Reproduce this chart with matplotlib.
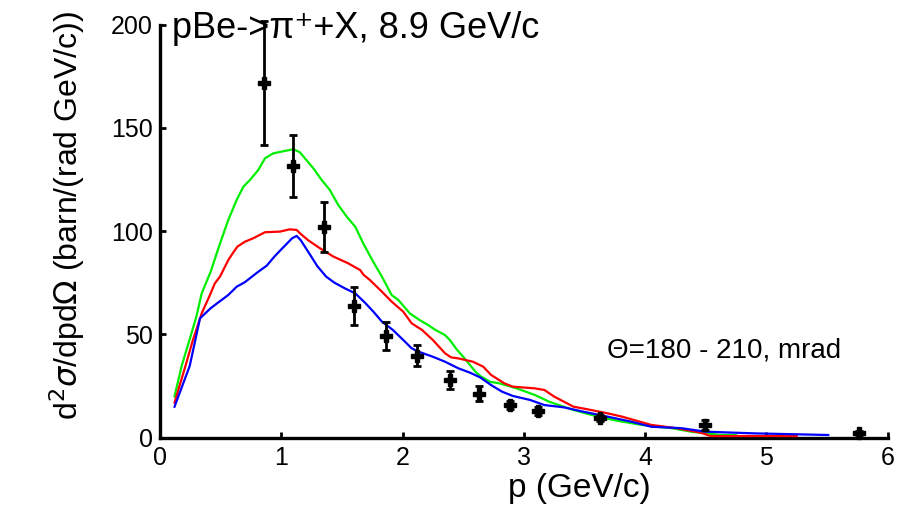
import matplotlib
matplotlib.use("Agg")
import matplotlib.pyplot as plt

plt.rcParams['font.family'] = ['Liberation Sans', 'DejaVu Sans']

# Experimental data points
data_p = [0.855, 1.10, 1.35, 1.60, 1.86, 2.12, 2.39, 2.63, 2.885, 3.12, 3.63, 4.49, 5.76]
data_xs = [171.6, 131.6, 102.0, 63.8, 49.3, 39.8, 28.0, 21.3, 15.8, 12.9, 9.4, 6.1, 2.1]
data_err = [30.0, 15.1, 12.3, 9.1, 6.9, 5.1, 4.4, 3.5, 2.0, 2.0, 1.5, 2.5, 1.0]

# Model curves
green_p = [0.12, 0.18, 0.26, 0.30, 0.344, 0.418, 0.486, 0.563, 0.632, 0.687, 0.742, 0.81, 0.866,
           0.934, 1.00, 1.10, 1.154, 1.195, 1.264, 1.333, 1.40, 1.47, 1.54, 1.61, 1.676, 1.76,
           1.83, 1.91, 1.965, 2.06, 2.14, 2.21, 2.27, 2.35, 2.39, 2.45, 2.50, 2.556, 2.60, 2.64,
           2.72, 2.80, 2.94, 3.09, 3.21, 3.41, 3.61, 3.77, 3.97, 4.22, 4.38, 4.62, 4.75]
green_xs = [20, 35, 50.6, 58.6, 69.9, 80.4, 92.5, 105.4, 115.1, 121.5, 124.8, 129.6, 135.3,
            137.7, 138.5, 139.7, 138.2, 135.3, 130.5, 124.8, 120, 112.7, 107, 102.2, 94.1, 85,
            78, 69.1, 66.7, 60.2, 57, 54.6, 52.2, 49.7, 47.3, 42.5, 39.2, 35.2, 32, 29.9,
            27.1, 26.3, 23.9, 20.7, 17.4, 13.4, 10.2, 8.2, 6.2, 4.6, 2.9, 1.3, 1.3]

red_p = [0.12, 0.21, 0.27, 0.344, 0.412, 0.453, 0.495, 0.563, 0.60, 0.638, 0.70, 0.77, 0.866,
         0.99, 1.07, 1.127, 1.154, 1.22, 1.32, 1.43, 1.55, 1.65, 1.68, 1.73, 1.83, 1.91, 2.006,
         2.075, 2.16, 2.25, 2.35, 2.40, 2.46, 2.58, 2.665, 2.73, 2.84, 2.91, 3.09, 3.17, 3.25,
         3.41, 3.53, 3.69, 3.81, 3.93, 4.05, 4.26, 4.46, 4.54, 5.25]
red_xs = [17, 34.7, 47, 60.2, 69.1, 74.8, 78, 86, 89.3, 92.5, 94.9, 96.6, 99.5,
          99.8, 100.9, 100.6, 99, 95.7, 91.7, 87.7, 84.5, 81.2, 78.8, 76.4, 70.7, 65.9, 61,
          55.4, 52.2, 47.3, 40.9, 38.9, 38.4, 36.8, 34.4, 30.4, 26.3, 24.7, 23.9, 23.1, 19.9,
          15, 13.7, 11.8, 10.2, 8.2, 6.2, 4.6, 2.4, 0.8, 0.8]

blue_p = [0.12, 0.245, 0.33, 0.418, 0.49, 0.563, 0.632, 0.70, 0.80, 0.88, 0.948, 1.017, 1.09,
          1.127, 1.16, 1.23, 1.297, 1.37, 1.44, 1.525, 1.61, 1.69, 1.76, 1.83, 1.92, 2.006,
          2.075, 2.13, 2.25, 2.35, 2.46, 2.556, 2.64, 2.73, 2.82, 2.91, 3.05, 3.17, 3.33, 3.49,
          3.69, 3.89, 4.05, 4.30, 4.50, 4.90, 5.51]
blue_xs = [15, 34.7, 57.8, 62.7, 65.9, 69.1, 73.1, 75.3, 79.9, 83.3, 88, 92.2, 96.6,
           97.7, 95.7, 89.3, 83.1, 78, 75, 72.3, 69.9, 65.4, 61, 56.2, 52.2, 47.3,
           43.3, 41.7, 39.2, 36.8, 33.6, 31.5, 29.2, 25.5, 22.3, 20.2, 18.3, 15.8, 14.7, 12.6,
           10.2, 7.7, 5.3, 4.6, 2.9, 2.1, 1.3]

x_ticks = [0, 1, 2, 3, 4, 5, 6]
y_ticks = [0, 50, 100, 150, 200]

fig = plt.figure(figsize=(9.11, 5.08), dpi=100)
ax = fig.add_axes([0.1756, 0.1384, 0.7988, 0.813])

ax.plot(green_p, green_xs, color='#00ee00', lw=1.6, zorder=2)
ax.plot(red_p, red_xs, color='#ff0000', lw=1.6, zorder=3)
ax.plot(blue_p, blue_xs, color='#0000ff', lw=1.6, zorder=4)
ax.errorbar(data_p, data_xs, yerr=data_err, fmt='P', color='black', ms=8,
            elinewidth=2, capsize=3, capthick=2, zorder=5, clip_on=False)

ax.set_xlim(0, 6)
ax.set_ylim(0, 200)
ax.set_xticks(x_ticks)
ax.set_yticks(y_ticks)
for s in ['top', 'right']:
    ax.spines[s].set_visible(False)
for s in ['left', 'bottom']:
    ax.spines[s].set_linewidth(2.4)
ax.tick_params(direction='in', length=4, width=2, labelsize=18)
ax.tick_params(axis='y', pad=5)
ax.tick_params(axis='x', pad=6)

ax.set_xlabel('p (GeV/c)', fontsize=24)
ax.xaxis.set_label_coords(0.576, -0.085)
ax.xaxis.label.set_va('top')
ax.set_ylabel(r'd$^2\sigma$/dpd$\Omega$ (barn/(rad GeV/c))', fontsize=23)
ax.yaxis.set_label_coords(-0.10, 0.539)

ax.text(0.0165, 0.99, 'pBe->π⁺+X, 8.9 GeV/c', transform=ax.transAxes,
        fontsize=26, ha='left', va='center')
ax.text(0.614, 0.212, 'Θ=180 - 210, mrad', transform=ax.transAxes,
        fontsize=20, ha='left', va='center')

fig.savefig('out.png', dpi=100)
